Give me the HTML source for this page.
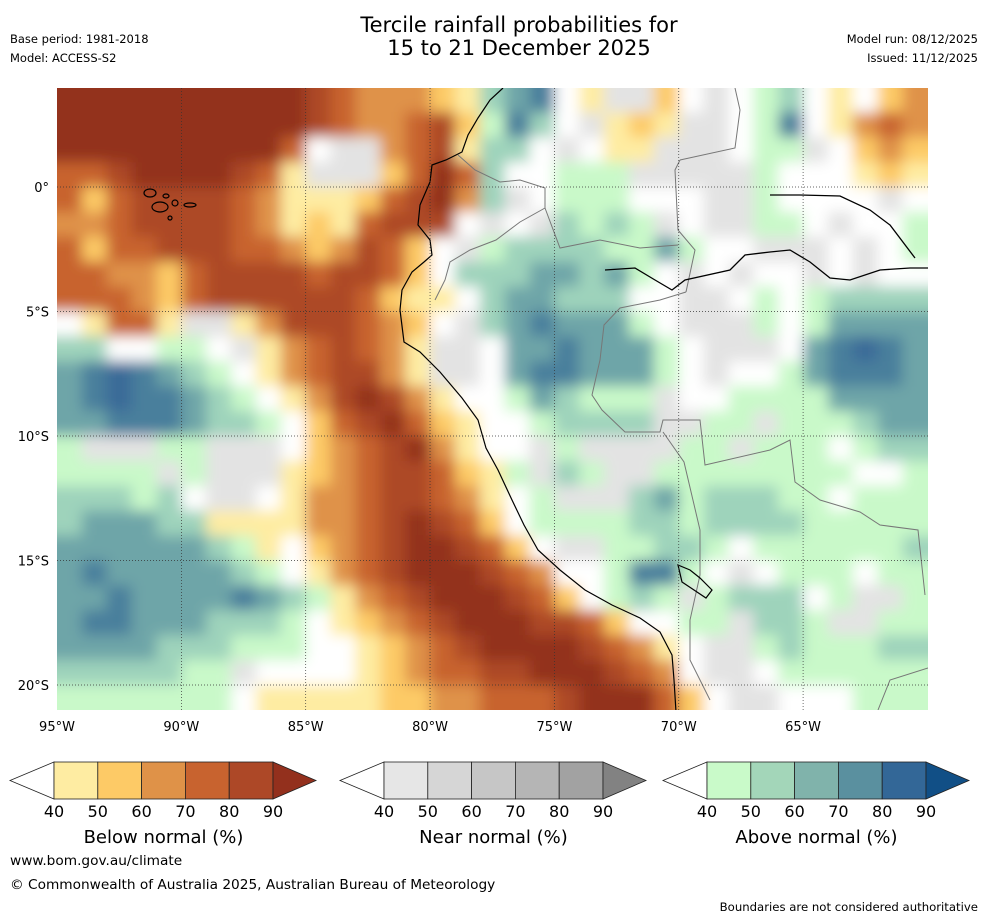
<!DOCTYPE html>
<html><head><meta charset="utf-8">
<style>
body{margin:0;background:#fff;width:988px;height:919px;overflow:hidden;font-family:"DejaVu Sans","Liberation Sans",sans-serif;}
svg{display:block}
</style></head>
<body>
<svg id="chart" width="988" height="919" viewBox="0 0 988 919" xmlns="http://www.w3.org/2000/svg">
<defs>
<clipPath id="mapclip"><rect x="57" y="88" width="871" height="622"/></clipPath>
<filter id="soft" filterUnits="userSpaceOnUse" x="0" y="0" width="988" height="919"><feGaussianBlur stdDeviation="7"/></filter>
</defs>
<text x="519" y="32" font-size="21" text-anchor="middle">Tercile rainfall probabilities for</text>
<text x="519" y="55" font-size="21" text-anchor="middle">15 to 21 December 2025</text>
<text x="10" y="43" font-size="11.5">Base period: 1981-2018</text>
<text x="10" y="62" font-size="11.5">Model: ACCESS-S2</text>
<text x="978" y="43" font-size="11.5" text-anchor="end">Model run: 08/12/2025</text>
<text x="978" y="62" font-size="11.5" text-anchor="end">Issued: 11/12/2025</text>
<g id="field" clip-path="url(#mapclip)"><g id="cells" filter="url(#soft)"></g></g>
<g id="lines" clip-path="url(#mapclip)"></g>
<g id="grid"></g>
<g id="legends"></g>
<text x="10" y="865" font-size="13.7">www.bom.gov.au/climate</text>
<text x="10" y="889" font-size="13.7">© Commonwealth of Australia 2025, Australian Bureau of Meteorology</text>
<text x="978" y="911" font-size="11.7" text-anchor="end">Boundaries are not considered authoritative</text>
</svg>
<script>
// grid: longitudes -95..-60 (1° cols), latitudes 4..-21 (1° rows)
const lonStart = -95;
const latStart = 4;
const fieldRows = [
"99999 99999 87666 54bcd w4gg5 wgwab w4w56",
"99999 99999 87667 85adb wg454 ggwad w4676",
"99999 99997 wgg67 84bbw gw44g ggwaa gw565",
"77899 99874 ggg57 97bww aaagg gggaw ww454",
"75788 88764 44578 96bgw aaaww wggaw wwwgw",
"66788 88764 54788 8wgwg babag wggaa wgwwa",
"75778 88776 56875 wgabb bbaac awwgg gwgwa",
"77665 78888 78875 wbbbc cbcaw gwgww gwgww",
"77765 78888 88754 4wbcc bbbww ggwaw abbbb",
"w4774 gg468 88765 wgbcd cccaw gggaw acccc",
"bbwwa awg46 78764 ggwcc dccca wgggw cdedc",
"cdedc baw46 78864 ggwcd dccca wgwwa cdddc",
"cdedd cbaw4 68986 4wwac baaag wwaaa acccc",
"ccddd cbbaw 57897 54wwa bbbbg gaaga aabcc",
"aggga agggw 56789 64wwg agggg aagaa awabb",
"aaaag aggg4 56788 754ag bagga aaaaa aawwa",
"bbbab wggw4 66788 764wa gggbc abbba awaaa",
"bcccb b4444 66789 875wa aaabb abbbb aaaaa",
"ccccc cba4w 56789 9875w ggaab bawaa aaaab",
"cdccc ccbaw 46789 99876 wwadd awgwa aawaa",
"ccdcc ccdcb a4678 99987 5waba gabbb wagga",
"cddcc cbbba w4567 89998 875ww aagbb aggaa",
"ccccb bbaaa ww456 78999 98764 wggab aaabb",
"bbbbb aagww ww456 77889 99876 wggwa aaaaa",
"aaaaa aaw44 44455 66777 89997 5wggw wwaaa"
];
const belowLabels = ["40","50","60","70","80","90"];
const nearLabels = ["40","50","60","70","80","90"];
const aboveLabels = ["40","50","60","70","80","90"];
const lonTicks = [-95,-90,-85,-80,-75,-70,-65];
const latTicks = [0,-5,-10,-15,-20];

const palette = {"9":"#93301d","8":"#ad4827","7":"#c8632f","6":"#df9248","5":"#fdca66","4":"#feeca2",
 "w":"#ffffff","g":"#e3e3e3","h":"#d6d6d6","a":"#c9f9c9","b":"#9ed3bb","c":"#6ea5a8","d":"#4a7f9c","e":"#3a6a98"};
const belowCols = ["#feeca2","#fdca66","#df9248","#c8632f","#ad4827","#93301d"];
const nearCols = ["#e6e6e6","#d6d6d6","#c6c6c6","#b5b5b5","#a2a2a2","#828282"];
const aboveCols = ["#c9fac9","#a3d6b9","#80b3ab","#5a909f","#336797","#114f86"];

const NS="http://www.w3.org/2000/svg";
const X0=57, Y0=187, PX=24.87, PY=24.9;
function xOf(lon){return X0+(lon+95)*PX;}
function yOf(lat){return Y0-lat*PY;}
function mk(tag,attrs,parent){const e=document.createElementNS(NS,tag);for(const k in attrs)e.setAttribute(k,attrs[k]);parent.appendChild(e);return e;}

const cellsG=document.getElementById('cells');
fieldRows.forEach((row,i)=>{
  const chars=row.replace(/ /g,'').split('');
  const nrows=fieldRows.length;
  chars.forEach((ch,j)=>{
    let x=xOf(lonStart+j), y=yOf(latStart-i), w=PX+0.6, h=PY+0.6;
    if(j===0){x-=30;w+=30;}
    if(j===chars.length-1){w+=30;}
    if(i===0){y-=30;h+=30;}
    if(i===nrows-1){h+=30;}
    const r=mk('rect',{x:x.toFixed(1),y:y.toFixed(1),width:w.toFixed(1),height:h.toFixed(1),fill:palette[ch]||'#fff'},cellsG);
    
    
  });
});

// boundaries (decorative geography)
const linesG=document.getElementById('lines');
const coast=mk('path',{d:"M503,88 L490,100 L478,118 L468,135 L462,152 L446,160 L432,165 L430,182 L420,205 L418,225 L430,240 L432,255 L424,262 L412,272 L402,290 L400,310 L404,342 L420,352 L440,372 L462,398 L478,420 L486,448 L498,470 L512,500 L524,525 L538,550 L560,570 L585,590 L612,605 L640,618 L660,632 L672,655 L674,680 L676,712",fill:"none",stroke:"#000","stroke-width":"1.2"},linesG);


const borders=mk('path',{d:"M458,155 L475,170 L500,182 L520,180 L545,188 L545,208 L520,222 L496,240 L470,250 L450,262 L445,280 L435,300 M680,160 L735,148 L740,110 L735,88 M680,160 L675,170 L678,230 L695,250 L686,292 M545,208 L560,248 L600,240 L640,248 L678,245 M686,292 L660,300 L620,308 L604,325 L600,360 L592,395 L602,410 L625,432 L660,432 L663,420 L700,420 L705,465 L770,450 L790,440 L795,482 L820,500 L860,512 L880,525 L918,530 L925,595 M663,432 L684,462 L700,530 L700,575 L690,620 L690,660 L710,700 M878,710 L890,680 L928,668",fill:"none",stroke:"#777","stroke-width":"1"},linesG);


const river=mk('path',{d:"M605,270 L635,268 L655,280 L672,290 L685,280 L730,270 L745,255 L770,252 L790,250 L810,262 L830,278 L850,280 L880,270 L910,268 L928,268 M770,195 L800,195 L840,196 L870,210 L890,225 L915,258",fill:"none",stroke:"#000","stroke-width":"1.3"},linesG);


[[150,193,6,4],[160,207,8,5],[166,196,3,2],[175,203,3,3],[190,205,6,2],[170,218,2,2]].forEach(p=>{
  const el=mk('ellipse',{cx:p[0],cy:p[1],rx:p[2],ry:p[3],fill:"none",stroke:"#000","stroke-width":"1.2"},linesG);
  
  
});
const lake=mk('path',{d:"M678,565 L690,570 L700,578 L712,590 L706,598 L694,590 L682,582 Z",fill:"none",stroke:"#000","stroke-width":"1.2"},linesG);



// graticule
const gridG=document.getElementById('grid');
lonTicks.forEach(lon=>{
  const x=xOf(lon);
  if(lon>-95){
    const l=mk('line',{x1:x,y1:88,x2:x,y2:710,stroke:"#333","stroke-width":"0.7","stroke-dasharray":"1,2"},gridG);
    
    
  }
  const t=mk('text',{x:x,y:731,"font-size":"13","text-anchor":"middle"},gridG);
  t.textContent=Math.abs(lon)+"°W";
  
  
});
latTicks.forEach(lat=>{
  const y=yOf(lat);
  const l=mk('line',{x1:57,y1:y,x2:928,y2:y,stroke:"#333","stroke-width":"0.7","stroke-dasharray":"1,2"},gridG);
  
  
  const t=mk('text',{x:49,y:y+5,"font-size":"13","text-anchor":"end"},gridG);
  t.textContent=lat===0?"0°":Math.abs(lat)+"°S";
  
  
});

// colorbars
const legG=document.getElementById('legends');
function colorbar(x0,cols,labels,title,name){
  const g=mk('g',{},legG);
  
  
  const bw=43.8, yt=762, yb=799, ym=780.5;
  const tri=mk('polygon',{points:`${x0},${ym} ${x0+44},${yt} ${x0+44},${yb}`,fill:"#fff",stroke:"#222","stroke-width":"0.8"},g);
  
  
  for(let k=0;k<5;k++){
    const r=mk('rect',{x:x0+44+k*bw,y:yt,width:bw,height:yb-yt,fill:cols[k],stroke:"#222","stroke-width":"0.8"},g);
    
    
  }
  const xe=x0+44+5*bw;
  const tri2=mk('polygon',{points:`${xe},${yt} ${xe+43},${ym} ${xe},${yb}`,fill:cols[5],stroke:"#222","stroke-width":"0.8"},g);
  
  
  labels.forEach((lb,k)=>{
    const t=mk('text',{x:x0+44+k*bw,y:817,"font-size":"16","text-anchor":"middle"},g);
    t.textContent=lb;
    
    
  });
  const tt=mk('text',{x:x0+44+2.5*bw,y:843,"font-size":"18","text-anchor":"middle"},g);
  tt.textContent=title;
  
  
}
colorbar(10,belowCols,belowLabels,"Below normal (%)","below-normal-colorbar");
colorbar(340,nearCols,nearLabels,"Near normal (%)","near-normal-colorbar");
colorbar(663,aboveCols,aboveLabels,"Above normal (%)","above-normal-colorbar");
</script>
</body></html>
